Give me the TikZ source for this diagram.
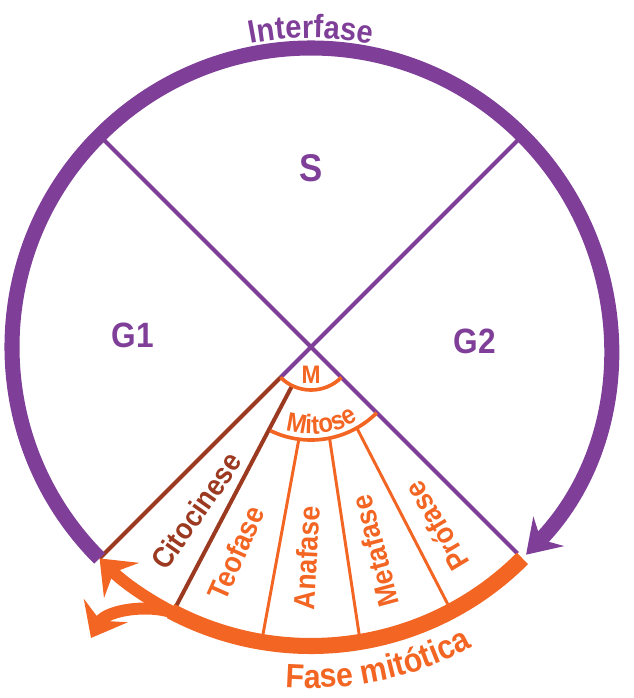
\documentclass[tikz,border=0pt]{standalone}
\usepackage{fontspec}
\setmainfont{Liberation Sans}[FakeStretch=0.9]
\usetikzlibrary{arrows.meta,decorations.text}
\definecolor{roxo}{RGB}{127,63,152}
\definecolor{laranja}{RGB}{242,101,34}
\definecolor{marrom}{RGB}{155,58,32}
\tikzset{
  rotulo/.style={font=\bfseries\fontsize{25}{25}\selectfont, text=roxo},
  fase/.style={font=\bfseries\fontsize{21}{21}\selectfont, text=laranja, inner sep=0pt},
  divisoria/.style={laranja, line width=2.1pt},
  seta/.style={-{Stealth[length=22pt, width=35pt, inset=8pt]}}
}
\begin{document}
\begin{tikzpicture}[x=0.025cm, y=0.025cm]
\useasboundingbox (-311,-351) rectangle (322,347);

% diagonais
\draw[roxo, line width=2.85pt] (135:299) -- (-45:292);
\draw[roxo, line width=2.85pt] (45:299) -- (0,0) -- (225:43);
\draw[marrom, line width=2.85pt] (225:43) -- (225:299);
\draw[marrom, line width=2.85pt] (244:43) -- (242.5:295);

% arcos M e Mitose
\draw[laranja, line width=2.6pt] (225:43) arc[start angle=225, end angle=315, radius=43];
\draw[laranja, line width=2.6pt] (244:93) arc[start angle=244, end angle=315, radius=93];
\foreach \a/\b in {262.5/260.5, 281.5/279.5, 299.5/298}
  \draw[divisoria] (\a:93) -- (\b:295);

% interfase
\draw[roxo, line width=10.7pt, -{Stealth[length=23pt, width=30pt, inset=8pt]}]
  (225:299) arc[start angle=225, end angle=-44, radius=299];

% fase mitotica
\draw[laranja, line width=11.4pt] (-45:299) arc[start angle=-45, end angle=-118, radius=299];
\draw[laranja, line width=8.5pt, seta] (-114:299) arc[start angle=-114, end angle=-135, radius=299];
\draw[laranja, line width=8.5pt, seta] (-116:299) .. controls (-157,-255) and (-205,-263) .. (-220,-291);

\node[rotulo, font=\bfseries\fontsize{27.5}{27.5}\selectfont] (S) at (0,179) {S};
\node[rotulo] (G1) at (-178,12) {G1};
\node[rotulo] (G2) at (164,6) {G2};
\node[fase, font=\bfseries\fontsize{18}{18}\selectfont] (M) at (0,-28) {M};

\node[fase, text=marrom, rotate=55] (cito) at (235:200) {Citocinese};
\node[fase, rotate=66] (teo) at (250:219) {Teofase};
\node[fase, rotate=87] (ana) at (268.8:211) {Anafase};
\node[fase, rotate=105] (meta) at (287.4:214) {Metafase};
\node[fase, rotate=121] (pro) at (305:219) {Prófase};

\path[decorate, decoration={text along path, text align=center, text color=roxo,
  text={|\bfseries\fontsize{23}{23}\selectfont|Interfase}}]
  (120:309) arc[start angle=120, end angle=60, radius=309];
\path[decorate, decoration={text along path, text align=center, text color=laranja,
  text={|\bfseries\fontsize{19}{19}\selectfont|Mitose}}]
  (240:87) arc[start angle=240, end angle=316, radius=87];
\path[decorate, decoration={text along path, text align=center, text color=laranja,
  text={|\bfseries\fontsize{24}{24}\selectfont|Fase mitótica}}]
  (250:341) arc[start angle=250, end angle=314, radius=341];
\end{tikzpicture}
\end{document}
